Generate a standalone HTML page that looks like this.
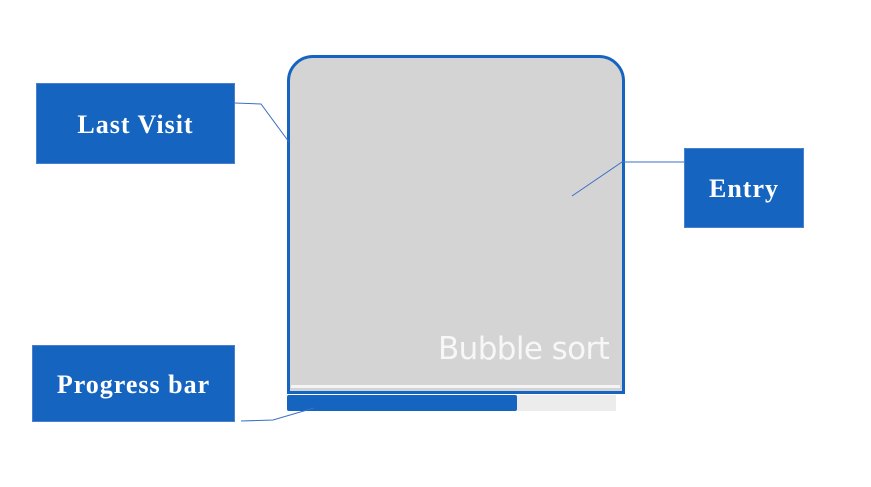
<!DOCTYPE html>
<html><head><meta charset="utf-8"><style>
html,body{margin:0;padding:0;background:#fff;width:871px;height:487px;overflow:hidden;position:relative}
.box{position:absolute;background:#1565c0;color:#fff;font-family:"Liberation Serif",serif;font-weight:bold;font-size:26px;letter-spacing:1px;display:flex;align-items:center;justify-content:center;border:1px solid #4a7fcf;box-sizing:border-box;padding-top:2px}
</style></head><body>
<div style="position:absolute;left:287px;top:55px;width:338px;height:339px;box-sizing:border-box;border:3px solid #1565c0;border-radius:26px 26px 0 0;background:#d4d4d4"></div>
<div style="position:absolute;left:291px;top:385px;width:329px;height:3px;background:#f4f4f4"></div>
<div style="position:absolute;left:438px;top:331px;font-family:'DejaVu Sans','Liberation Sans',sans-serif;font-size:31px;color:#f7f7f7;letter-spacing:-0.6px;white-space:nowrap">Bubble sort</div>
<div style="position:absolute;left:287px;top:395px;width:329px;height:16px;background:#ececec"></div>
<div style="position:absolute;left:287px;top:395px;width:230px;height:16px;background:#1565c0;border-radius:2px"></div>
<div class="box" style="left:36px;top:83px;width:199px;height:81px">Last Visit</div>
<div class="box" style="left:684px;top:148px;width:120px;height:80px">Entry</div>
<div class="box" style="left:32px;top:345px;width:203px;height:77px">Progress bar</div>
<svg width="871" height="487" style="position:absolute;left:0;top:0">
<g fill="none" stroke="#3a6fc8" stroke-width="1">
<polyline points="235,103 261,104 289,142"/>
<polyline points="684,162 622,162 572,196"/>
<polyline points="241,421 273,420 314,408"/>
</g></svg>
</body></html>
